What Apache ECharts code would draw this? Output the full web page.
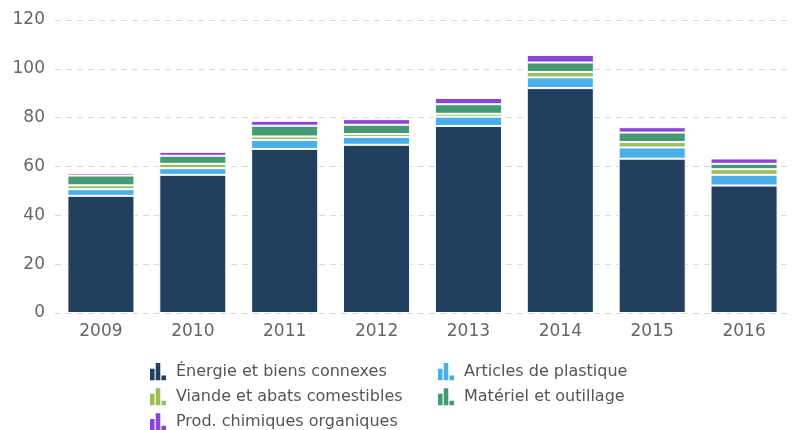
<!DOCTYPE html>
<html><head><meta charset="utf-8">
<script src="https://cdn.jsdelivr.net/npm/echarts@6/dist/echarts.min.js"></script>
<style>html,body{margin:0;padding:0;background:#fff}#c{width:792px;height:430px}</style>
</head><body><div id="c"></div>
<script>
const categories = ['2009','2010','2011','2012','2013','2014','2015','2016'];
const energie   = [48.0, 56.6, 67.2, 68.9, 76.6, 92.1, 63.2, 52.2];
const plastique = [2.7, 2.7, 3.7, 3.2, 3.8, 4.4, 4.6, 4.4];
const viande    = [1.6, 1.8, 1.4, 1.2, 1.2, 2.2, 2.2, 2.3];
const materiel  = [4.0, 3.3, 4.4, 3.8, 3.9, 3.9, 3.9, 2.2];
const chimiques = [1.0, 1.6, 2.0, 2.3, 2.6, 3.1, 2.2, 2.2];
const yTicks = [0, 20, 40, 60, 80, 100, 120];

const names = ['Énergie et biens connexes','Articles de plastique','Viande et abats comestibles','Matériel et outillage','Prod. chimiques organiques'];
const colors = ['#233f5e','#4baeea','#9bbe5a','#459a73','#8a44d8'];
const values = [energie, plastique, viande, materiel, chimiques];
const icon = 'path://M0,5h4v10h-4z M5,0h4v15h-4z M10,11h4v4h-4z';
const font = 'DejaVu Sans';

const legendBase = {orient:'vertical', top:363, itemGap:8, padding:0, height:100,
  itemWidth:16, itemHeight:19, icon:icon,
  itemStyle:{borderWidth:0, borderColor:'rgba(0,0,0,0)'},
  textStyle:{color:'#555', fontSize:16, fontFamily:font, padding:[0,0,0,5]}};

const chart = echarts.init(document.getElementById('c'), null, {renderer:'canvas'});
chart.setOption({
  animation:false,
  textStyle:{fontFamily:font},
  grid:{left:55, right:2, top:20, bottom:117},
  xAxis:{type:'category', data:categories,
    axisLine:{show:false}, axisTick:{show:false},
    axisLabel:{color:'#666', fontSize:17, margin:10, fontFamily:font}},
  yAxis:{type:'value', min:yTicks[0], max:yTicks[yTicks.length-1], interval:20,
    axisLine:{show:false}, axisTick:{show:false},
    axisLabel:{color:'#666', fontSize:17, margin:10, fontFamily:font},
    splitLine:{lineStyle:{color:'#d9d9d9', type:[6,5], width:1}}},
  legend:[
    Object.assign({}, legendBase, {data:[names[0],names[2],names[4]], left:150}),
    Object.assign({}, legendBase, {data:[names[1],names[3]], left:438})
  ],
  series: names.map((n,i)=>({
    name:n, type:'bar', stack:'total', data:values[i], barWidth:'73%',
    itemStyle:{color:colors[i], borderColor:'#fff', borderWidth:1}
  }))
});
</script></body></html>
